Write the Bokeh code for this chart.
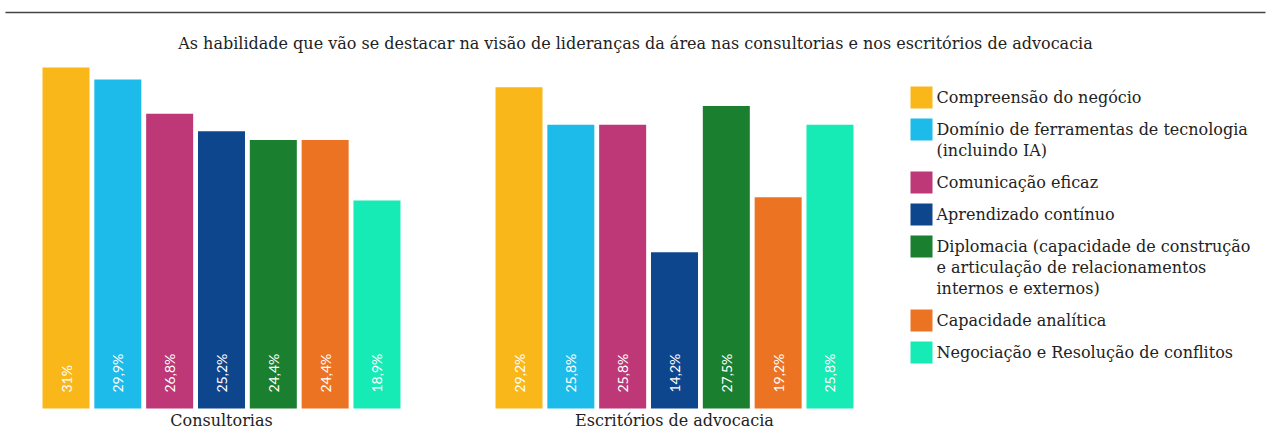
from bokeh.plotting import figure
from bokeh.models import Range1d
from bokeh.embed import file_html
from bokeh.resources import INLINE
from bokeh.core.properties import value
import math

title = "As habilidade que vão se destacar na visão de lideranças da área nas consultorias e nos escritórios de advocacia"
groups = ["Consultorias", "Escritórios de advocacia"]
skills = [
    "Compreensão do negócio",
    "Domínio de ferramentas de tecnologia\n(incluindo IA)",
    "Comunicação eficaz",
    "Aprendizado contínuo",
    "Diplomacia (capacidade de construção\ne articulação de relacionamentos\ninternos e externos)",
    "Capacidade analítica",
    "Negociação e Resolução de conflitos",
]
consultorias = [31.0, 29.9, 26.8, 25.2, 24.4, 24.4, 18.9]
escritorios = [29.2, 25.8, 25.8, 14.2, 27.5, 19.2, 25.8]
labels_c = ["31%", "29,9%", "26,8%", "25,2%", "24,4%", "24,4%", "18,9%"]
labels_e = ["29,2%", "25,8%", "25,8%", "14,2%", "27,5%", "19,2%", "25,8%"]
colors = ["#F9B71A", "#1CBBEA", "#BE3777", "#0E468E", "#1A7F2E", "#EC7322", "#16EAB5"]

W, H = 1270, 440
SERIF = value("DejaVu Serif")

# 11 px per percentage point, baseline 32 px above the bottom edge
p = figure(width=W, height=H, output_backend="svg", toolbar_location=None,
           x_range=Range1d(0, W), y_range=Range1d(-32 / 11, 408 / 11),
           min_border=0, outline_line_color=None)
p.axis.visible = False
p.grid.visible = False
p.extra_y_ranges = {"px": Range1d(H, 0)}

# top rule
p.line([5, 1265], [12, 12], y_range_name="px", line_color="#444444", line_width=1.6)

p.text([635], [43], text=[title], y_range_name="px", text_font=SERIF,
       text_font_size="16px", text_color="#222222", text_align="center", text_baseline="middle")

step, bw = 51.83, 47
starts = [42, 495]
for g, (vals, labs) in enumerate([(consultorias, labels_c), (escritorios, labels_e)]):
    xs = [starts[g] + bw / 2 + i * step for i in range(len(vals))]
    p.vbar(x=xs, top=vals, bottom=0, width=bw, fill_color=colors, line_color=None)
    p.text(xs, [0] * len(xs), text=labs, angle=math.pi / 2, y_offset=-16,
           text_font=value("Lato"), text_font_size="14px", text_color="#ffffff",
           text_align="left", text_baseline="middle")
    p.text([(xs[0] + xs[-1]) / 2], [420], text=[groups[g]], y_range_name="px",
           text_font=SERIF, text_font_size="16px", text_color="#222222",
           text_align="center", text_baseline="middle")

# legend
lx, ly = 910, 86
sq, lh = 22, 21
y = ly
for name, c in zip(skills, colors):
    lines = name.split("\n")
    p.rect([lx + sq / 2], [y + sq / 2], width=sq, height=sq, y_range_name="px",
           fill_color=c, line_color=None)
    p.text([lx + sq + 4] * len(lines), [y + sq / 2 + k * lh for k in range(len(lines))],
           text=lines, y_range_name="px", text_font=SERIF, text_font_size="16px",
           text_color="#222222", text_align="left", text_baseline="middle")
    y += 32 + (len(lines) - 1) * lh

open("out.html", "w").write(file_html(p, INLINE))
